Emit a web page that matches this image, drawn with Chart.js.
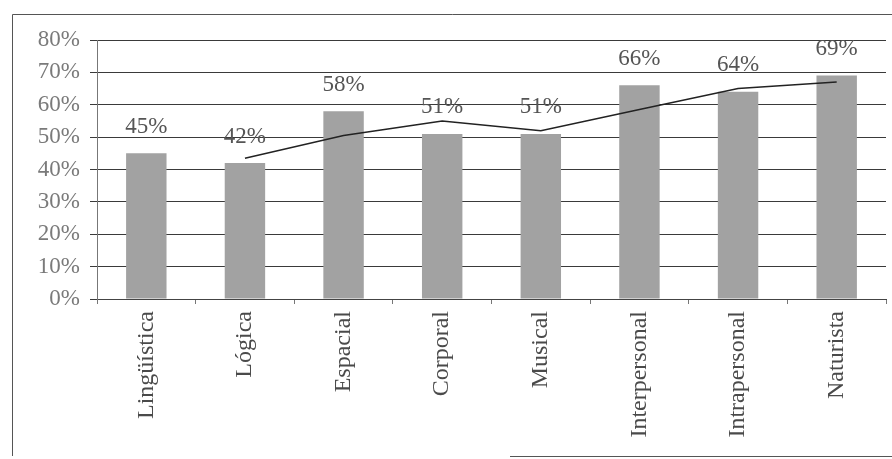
<!DOCTYPE html>
<html>
<head>
<meta charset="utf-8">
<script src="https://cdn.jsdelivr.net/npm/chart.js@4/dist/chart.umd.min.js"></script>
<style>
  html, body { margin: 0; padding: 0; background: #fff; }
  #wrap { position: relative; width: 892px; height: 459px; }
</style>
</head>
<body>
<div id="wrap"><canvas id="chart" width="892" height="459"></canvas></div>
<script>
const categories = ['Lingüística', 'Lógica', 'Espacial', 'Corporal', 'Musical', 'Interpersonal', 'Intrapersonal', 'Naturista'];
const percentages = [45, 42, 58, 51, 51, 66, 64, 69];
const trendLine = [null, 43.5, 50.5, 55, 52, 58.5, 65, 67];
const yTicks = [0, 10, 20, 30, 40, 50, 60, 70, 80];

const serif = '"Liberation Serif", "DejaVu Serif", serif';

// thin frame around the whole figure
const framePlugin = {
  id: 'frame',
  beforeDraw(chart) {
    const c = chart.ctx;
    c.save();
    c.strokeStyle = '#555';
    c.lineWidth = 1;
    c.beginPath();
    c.moveTo(12.5, 456);
    c.lineTo(12.5, 14.5);
    c.lineTo(892, 14.5);
    c.moveTo(510, 456.5);
    c.lineTo(892, 456.5);
    c.stroke();
    c.restore();
  }
};

// percentage labels above each bar
const barLabels = {
  id: 'barLabels',
  afterDatasetsDraw(chart) {
    const meta = chart.getDatasetMeta(0);
    const c = chart.ctx;
    c.save();
    c.font = '23px ' + serif;
    c.fillStyle = '#555';
    c.textAlign = 'center';
    c.textBaseline = 'bottom';
    meta.data.forEach((bar, i) => {
      c.fillText(percentages[i] + '%', bar.x, bar.y - 15);
    });
    c.restore();
  }
};

new Chart(document.getElementById('chart'), {
  data: {
    labels: categories,
    datasets: [
      {
        type: 'bar',
        data: percentages,
        backgroundColor: '#a2a2a2',
        borderWidth: 0,
        barPercentage: 0.41,
        categoryPercentage: 1,
        order: 2,
      },
      {
        type: 'line',
        data: trendLine,
        borderColor: '#222',
        borderWidth: 1.5,
        pointRadius: 0,
        tension: 0,
        fill: false,
        order: 1,
      }
    ]
  },
  options: {
    responsive: false,
    animation: false,
    layout: { padding: { top: 40, right: 6, left: 0, bottom: 0 } },
    plugins: {
      legend: { display: false },
      tooltip: { enabled: false },
    },
    scales: {
      x: {
        offset: true,
        grid: {
          offset: true,
          drawOnChartArea: false,
          drawTicks: true,
          tickLength: 5,
          color: '#777',
        },
        border: { color: '#444', width: 1 },
        ticks: {
          minRotation: 90,
          maxRotation: 90,
          padding: 7,
          color: '#4a4a4a',
          font: { family: serif, size: 24 },
        },
        afterFit: (s) => { s.height = 160; },
      },
      y: {
        min: 0,
        max: 80,
        afterBuildTicks: (s) => { s.ticks = yTicks.map(v => ({ value: v })); },
        grid: {
          color: '#3a3a3a',
          lineWidth: 1,
          tickLength: 7,
        },
        border: { color: '#777', width: 1 },
        ticks: {
          padding: 10,
          color: '#7a7a7a',
          font: { family: serif, size: 23 },
          callback: (v) => v + '%',
        },
        afterFit: (s) => { s.width = 97; },
      }
    }
  },
  plugins: [framePlugin, barLabels]
});
</script>
</body>
</html>
